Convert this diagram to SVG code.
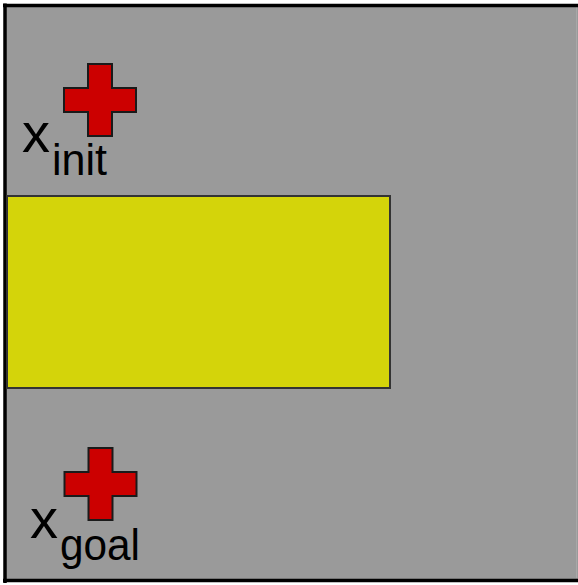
<svg xmlns="http://www.w3.org/2000/svg" width="578" height="585" viewBox="0 0 578 585">
<defs>
<style>
.cross{fill:#cc0000;stroke:#1a1a1a;stroke-width:2;stroke-linejoin:miter}
.lbl{font-family:"Liberation Sans",Arial,sans-serif;fill:#000}
</style>
<polygon id="crossShape" points="-12,-36 12,-36 12,-12 36,-12 36,12 12,12 12,36 -12,36 -12,12 -36,12 -36,-12 -12,-12"/>
</defs>
<rect x="0" y="0" width="578" height="585" fill="#ffffff"/>
<rect x="5" y="5" width="573" height="576" fill="#9a9a9a"/>
<line x1="576.5" y1="7" x2="576.5" y2="578" stroke="#a8a8a8" stroke-width="1"/>
<g id="frame" stroke="#000" stroke-width="3.5" fill="none">
<line x1="3" y1="5.5" x2="578" y2="5.5"/>
<line x1="5" y1="3.5" x2="5" y2="583"/>
<line x1="3" y1="580.5" x2="578" y2="580.5"/>
</g>
<g id="obstacle">
<rect x="7" y="196" width="383" height="192" fill="#d4d40a" stroke="#333" stroke-width="2"/>
</g>
<g id="init">
<use href="#crossShape" class="cross" transform="translate(100,100)"/>
<text class="lbl" x="22" y="152" font-size="56">x</text>
<text class="lbl" x="52" y="175" font-size="45" textLength="55" lengthAdjust="spacingAndGlyphs">init</text>
</g>
<g id="goal">
<use href="#crossShape" class="cross" transform="translate(100.5,484)"/>
<text class="lbl" x="30" y="538" font-size="56">x</text>
<text class="lbl" x="60" y="560" font-size="45" textLength="80" lengthAdjust="spacingAndGlyphs">goal</text>
</g>
<g id="connectors"/>
</svg>
